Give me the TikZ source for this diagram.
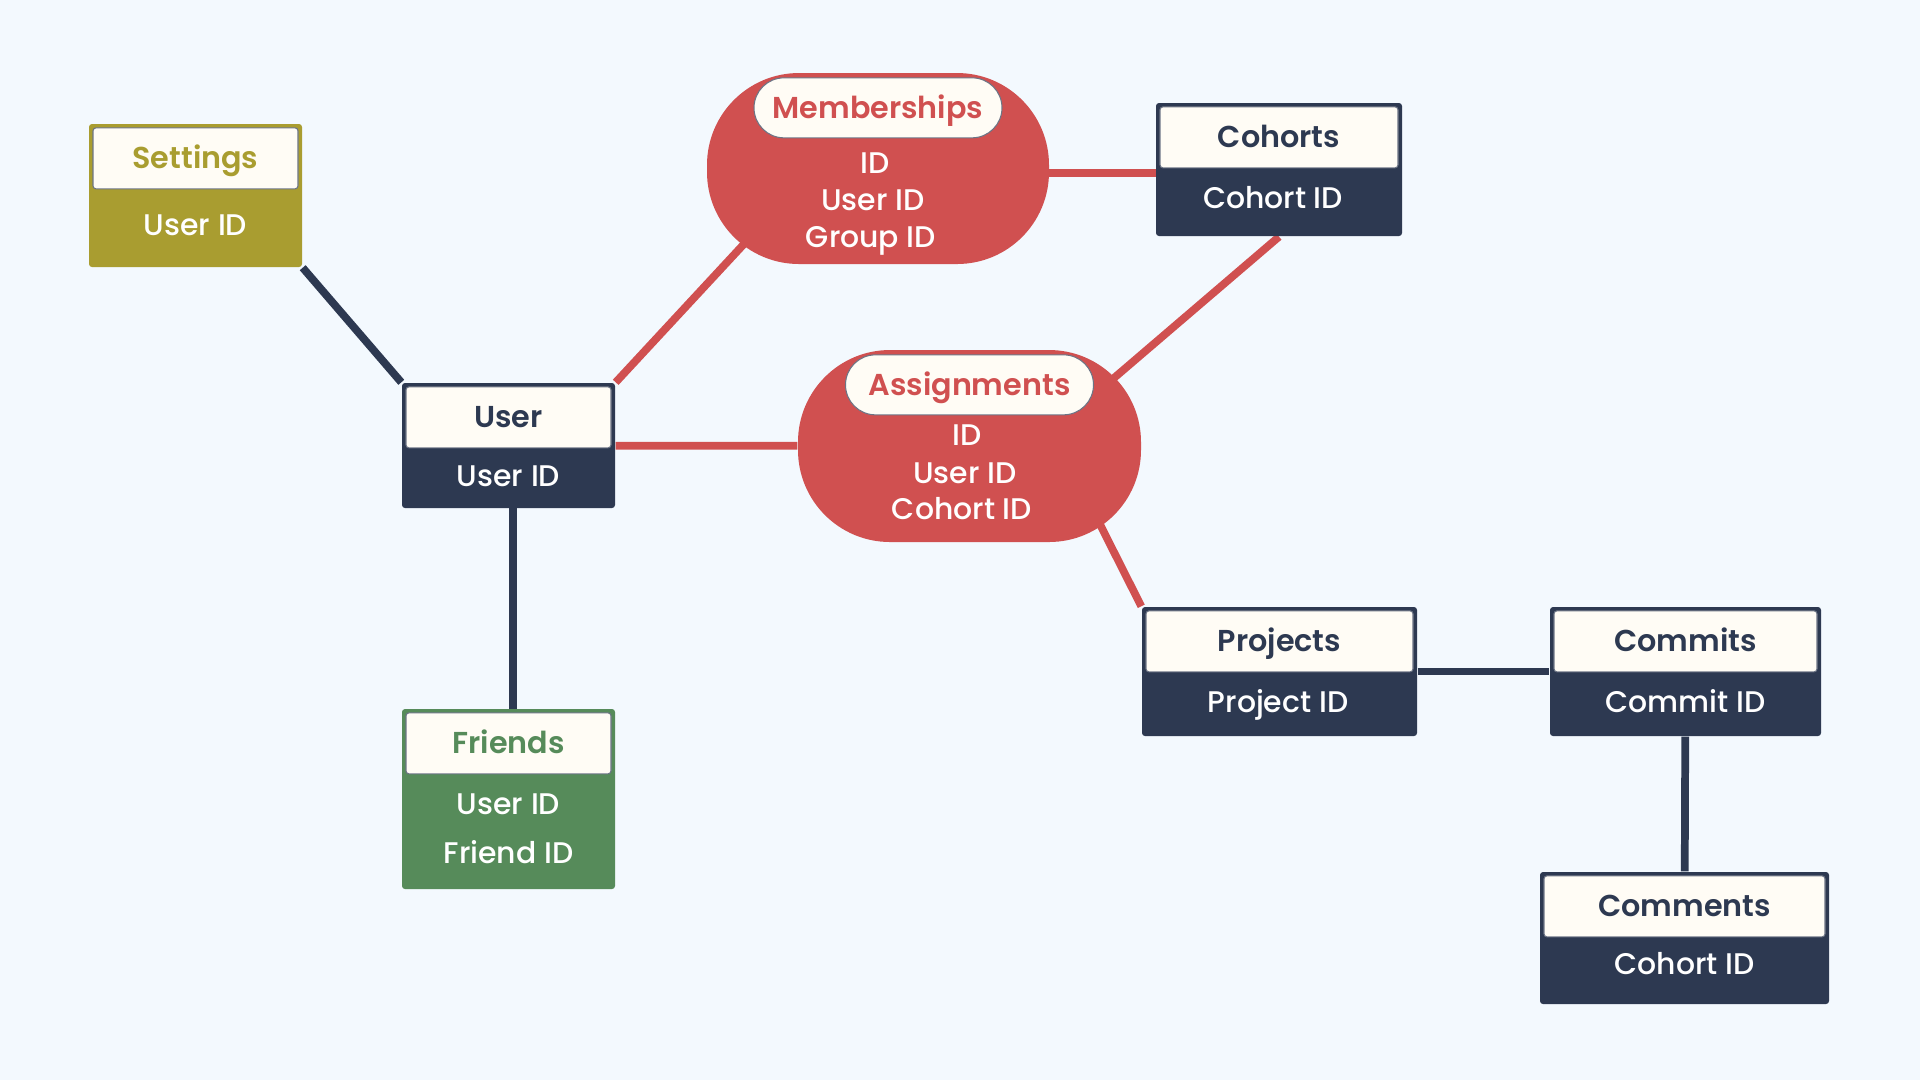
\documentclass[tikz,border=0pt]{standalone}
\usepackage{fontspec}
\setmainfont{Poppins}[UprightFont={* Medium},BoldFont={* SemiBold}]
\usetikzlibrary{backgrounds,calc}

\definecolor{bgblue}{HTML}{F3F9FE}
\definecolor{navy}{HTML}{2D3951}
\definecolor{brick}{HTML}{D05050}
\definecolor{olive}{HTML}{A99D30}
\definecolor{leaf}{HTML}{568B5A}
\definecolor{cream}{HTML}{FFFCF5}

\begin{document}
\begin{tikzpicture}[x=0.1mm,y=-0.1mm,
    tbl/.style={fill=#1,rounded corners=0.3mm,inner sep=0pt},
    head/.style={anchor=north,yshift=-0.4mm,minimum height=6.1mm,inner sep=0pt,
      text height=0.55em,text depth=0pt,
      fill=cream,draw=navy!70,line width=0.3pt,rounded corners=0.3mm,
      font=\bfseries\fontsize{8.6}{10}\selectfont},
    blob/.style={fill=brick,rounded corners=9.2mm,inner sep=0pt},
    pill/.style={anchor=north,yshift=-0.5mm,minimum width=24.8mm,minimum height=6mm,
      inner sep=0pt,text height=0.6em,text depth=0pt,
      fill=cream,draw=navy!70,line width=0.3pt,rounded corners=3mm,
      text=brick,font=\bfseries\fontsize{8.6}{10}\selectfont},
    field/.style={text=white,inner sep=0pt,text height=0.6em,text depth=0pt,
      font=\fontsize{8.5}{10}\selectfont},
    link/.style={line width=2.2pt,draw=#1}]

  \useasboundingbox (0,0) rectangle (1920,1080);

  % tables
  \node[tbl=olive,minimum width=21.3mm,minimum height=14.3mm] (settings) at (195.5,195.5) {};
  \node[head,minimum width=20.5mm,text=olive] (settingshead) at (settings.north) {Settings};
  \node[field] (settingsid) at (195.5,225) {User ID};

  \node[tbl=navy,minimum width=21.3mm,minimum height=12.5mm] (user) at (508.5,445.5) {};
  \node[head,minimum width=20.5mm,text=navy] (userhead) at (user.north) {User};
  \node[field] (userid) at (508.5,476) {User ID};

  \node[tbl=leaf,minimum width=21.3mm,minimum height=18mm] (friends) at (508.5,799) {};
  \node[head,minimum width=20.5mm,text=leaf] (friendshead) at (friends.north) {Friends};
  \node[field] (friendsuser) at (508.5,804) {User ID};
  \node[field] (friendsfriend) at (508.5,853) {Friend ID};

  \node[tbl=navy,minimum width=24.6mm,minimum height=13.3mm] (cohorts) at (1279,169.5) {};
  \node[head,minimum width=23.8mm,text=navy] (cohortshead) at (cohorts.north) {Cohorts};
  \node[field] (cohortsid) at (1273,198) {Cohort ID};

  \node[tbl=navy,minimum width=27.5mm,minimum height=12.9mm] (projects) at (1279.5,671.5) {};
  \node[head,minimum width=26.7mm,text=navy] (projectshead) at (projects.north) {Projects};
  \node[field] (projectsid) at (1278,702) {Project ID};

  \node[tbl=navy,minimum width=27.1mm,minimum height=12.9mm] (commits) at (1685.5,671.5) {};
  \node[head,minimum width=26.3mm,text=navy] (commitshead) at (commits.north) {Commits};
  \node[field] (commitsid) at (1685.5,702) {Commit ID};

  \node[tbl=navy,minimum width=28.9mm,minimum height=13.2mm] (comments) at (1684.5,938) {};
  \node[head,minimum width=28.1mm,text=navy] (commentshead) at (comments.north) {Comments};
  \node[field] (commentsid) at (1684.5,964) {Cohort ID};

  % join tables
  \node[blob,minimum width=34.2mm,minimum height=19.1mm] (memberships) at (878,168.5) {};
  \node[pill] (membershipshead) at (memberships.north) {Memberships};
  \node[field] (membershipsid) at (875,163) {ID};
  \node[field] (membershipsuser) at (873,200) {User ID};
  \node[field] (membershipsgroup) at (871,237) {Group ID};

  \node[blob,minimum width=34.3mm,minimum height=19.2mm] (assignments) at (969.5,446) {};
  \node[pill] (assignmentshead) at (assignments.north) {Assignments};
  \node[field] (assignmentsid) at (967,435) {ID};
  \node[field] (assignmentsuser) at (965,473) {User ID};
  \node[field] (assignmentscohort) at (962,509) {Cohort ID};

  % connectors
  \begin{pgfonlayer}{background}
    \fill[bgblue] (0,0) rectangle (1920,1080);
    \draw[link=navy] (settings.south east) -- (user.north west);
    \draw[link=navy] ($(user.center)+(4.5,0)$) -- ($(friends.center)+(4.5,0)$);
    \draw[link=navy] (projects) -- (commits);
    \draw[link=navy] (commits) -- (comments);
    \draw[link=brick] (user.north east) -- ($(memberships.center)+(-64,0)$);
    \draw[link=brick] ($(memberships.center)+(0,4.5)$) -- ($(cohorts.center)+(0,3.5)$);
    \draw[link=brick] (user) -- (assignments);
    \draw[link=brick] (cohorts.south) -- ($(assignments.center)+(65,0)$);
    \draw[link=brick] (projects.north west) -- ($(assignments.center)+(91,0)$);
  \end{pgfonlayer}
\end{tikzpicture}
\end{document}
